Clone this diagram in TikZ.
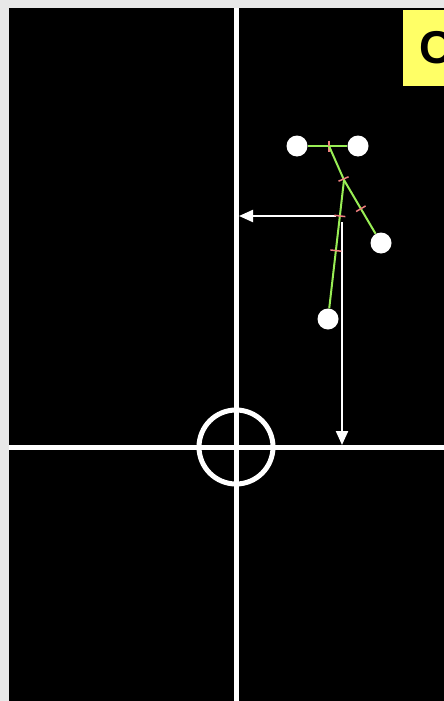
\documentclass[tikz,border=0pt]{standalone}
\usepackage{fontspec}
\newfontfamily\labelfont{Liberation Sans}
\usetikzlibrary{arrows.meta,decorations.markings}
\definecolor{bone}{HTML}{99EE55}
\definecolor{tickc}{HTML}{F08080}
\definecolor{note}{HTML}{FFFF66}

\begin{document}
\begin{tikzpicture}[x=1pt,y=-1pt,>={Triangle[length=14pt,width=12pt]}]
 \tikzset{joint/.style={circle,fill=white,inner sep=0,minimum size=21pt},
  limb/.style={draw=bone,line width=2pt},
  tick at/.style={postaction={decorate,decoration={markings,
   mark=at position #1 with {\draw[tickc,line width=1.5pt] (0,-5.5)--(0,5.5);}}}},
  axis/.style={white,line width=5pt},
  offset/.style={white,line width=2.2pt,->}}
 \useasboundingbox (0,0) rectangle (444,701);
 \fill[black!9] (0,0) rectangle (444,701);
 \fill[black] (9,8) rectangle (444,701);
 % crosshair
 \coordinate (ctr) at (236,447);
 \draw[axis] (236,8)--(236,701);
 \draw[axis] (9,447)--(444,447);
 \draw[axis] (ctr) circle (37);
 % offsets to the axes
 \coordinate (hx) at (336,216);
 \coordinate (hy) at (342,222);
 \coordinate (yaxis) at (239,216);
 \coordinate (xaxis) at (342,445);
 \draw[offset] (hx)--(yaxis);
 \draw[offset] (hy)--(xaxis);
 % skeleton
 \node[joint] (lsh) at (297,146) {};
 \node[joint] (rsh) at (358,146) {};
 \node[joint] (hand) at (381,243) {};
 \node[joint] (foot) at (328,319) {};
 \coordinate (neck) at (329,146);
 \coordinate (mid) at (344,180);
 \draw[limb,tick at=.54] (lsh)--(rsh);
 \draw[limb,tick at=.97] (neck)--(mid);
 \draw[limb,tick at=.535] (mid)--(hand);
 \draw[limb,tick at=.28,tick at=.55] (mid)--(foot);
 % label
 \begin{scope}
  \clip (0,0) rectangle (444,701);
  \fill[note] (403,10) rectangle (450,86);
  \node[anchor=west,inner sep=0,font=\labelfont\bfseries\fontsize{46}{46}\selectfont] (lbl) at (419,48) {C};
 \end{scope}
\end{tikzpicture}
\end{document}
